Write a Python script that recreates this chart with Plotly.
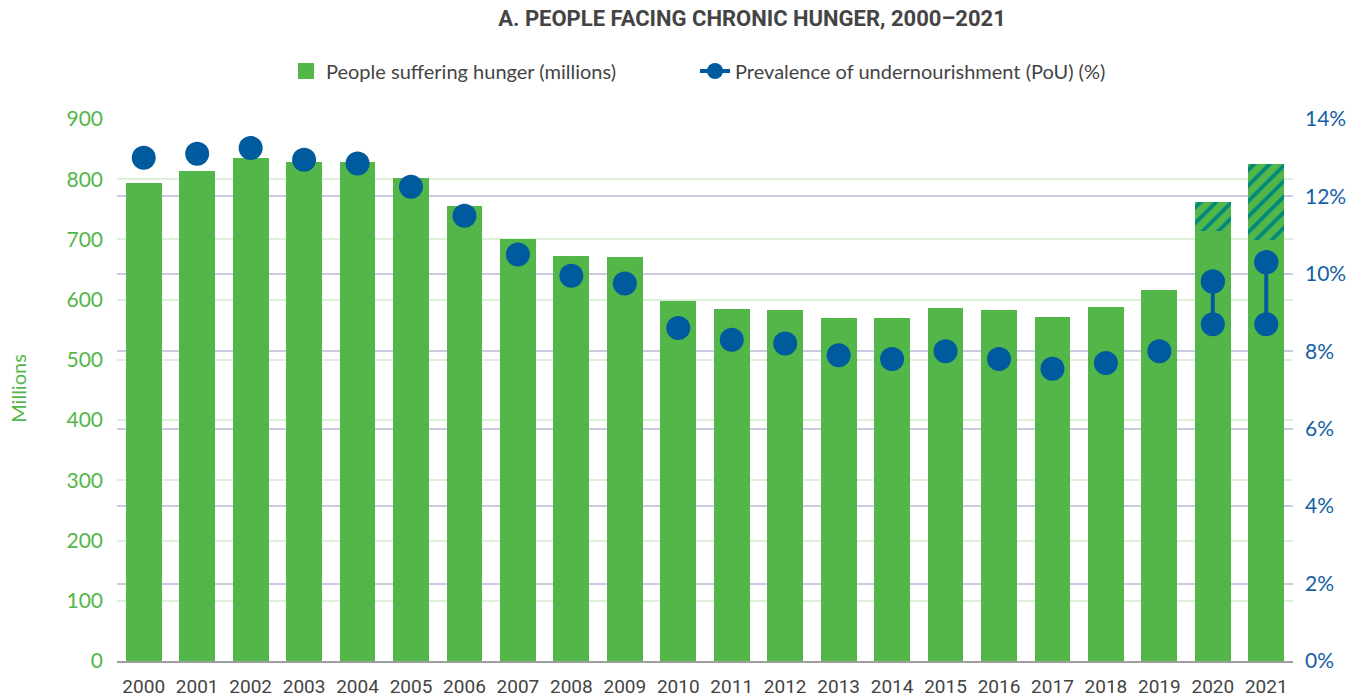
import plotly.graph_objects as go

years = [str(y) for y in range(2000, 2022)]
hunger = [794, 814, 835, 829, 829, 802, 756, 701, 672, 671, 598, 584, 583, 570, 570, 586,
          583, 571, 588, 616, 714, 699]
hunger_upper_extra = [None] * 20 + [49, 126]   # projected range above lower bound (2020, 2021)
pou = [13.0, 13.1, 13.25, 12.95, 12.85, 12.25, 11.5, 10.5, 9.95, 9.75, 8.6, 8.3, 8.2, 7.9,
       7.8, 8.0, 7.8, 7.55, 7.7, 8.0, 9.8, 10.3]
pou_low = {"2020": 8.7, "2021": 8.7}

left_ticks = [0, 100, 200, 300, 400, 500, 600, 700, 800, 900]
right_ticks = [0, 2, 4, 6, 8, 10, 12, 14]
right_labels = [f"{t}%" for t in right_ticks]

GREEN = "#52B748"
BLUE = "#005A9E"
TEAL = "#00897B"
GREY = "#444444"
NARROW = "Roboto, sans-serif"
BASE = "Lato, Roboto, sans-serif"

fig = go.Figure()
fig.add_trace(go.Bar(x=years, y=hunger, marker_color=GREEN, marker_line_width=0,
                     showlegend=False, hoverinfo="x+y"))
fig.add_trace(go.Bar(x=years, y=hunger_upper_extra, marker=dict(
    color=GREEN, line_width=0,
    pattern=dict(shape="/", fgcolor=TEAL, bgcolor=GREEN, size=11, solidity=0.35, fillmode="replace")),
    showlegend=False))
# legend proxy for bars
fig.add_trace(go.Scatter(x=[None], y=[None], mode="markers", name="People suffering hunger (millions)",
                         marker=dict(symbol="square", size=18, color=GREEN), legend="legend"))

# range segments 2020/2021
rx, ry = [], []
for yr, lo in pou_low.items():
    rx += [yr, yr, None]
    ry += [lo, pou[years.index(yr)], None]
fig.add_trace(go.Scatter(x=rx, y=ry, yaxis="y2", mode="lines+markers",
                         line=dict(color=BLUE, width=4), marker=dict(size=24, color=BLUE),
                         name="Prevalence of undernourishment (PoU) (%)", legend="legend2"))
fig.add_trace(go.Scatter(x=years, y=pou, yaxis="y2", mode="markers",
                         marker=dict(size=24, color=BLUE), showlegend=False))

fig.add_annotation(text="Millions", xref="paper", yref="paper", x=-0.0842, y=0.504,
                   textangle=-90, showarrow=False, xanchor="center", yanchor="middle",
                   font=dict(family=BASE, size=20, color=GREEN))

legend_style = dict(orientation="h", xanchor="left", y=1.0886, yanchor="middle",
                    font=dict(size=20, color=GREY), itemsizing="trace", bgcolor="rgba(0,0,0,0)")

fig.update_layout(
    width=1362, height=698,
    margin=dict(l=117, r=69, t=119, b=37, autoexpand=False),
    paper_bgcolor="white", plot_bgcolor="white",
    barmode="stack", bargap=0.33,
    font=dict(family=BASE, color=GREY),
    title=dict(text="<b>A. PEOPLE FACING CHRONIC HUNGER, 2000–2021</b>",
               x=0.54, xref="paper", xanchor="center", y=0.974, yanchor="middle",
               font=dict(family=NARROW, size=22, color=GREY)),
    legend=dict(x=0.1437, **legend_style),
    legend2=dict(x=0.4915, **legend_style),
    xaxis=dict(type="category", showgrid=False, showline=True, linecolor="#9E9E9E", linewidth=2,
               tickfont=dict(family=NARROW, size=19, color=GREY), ticks="", range=[-0.5, 21.5],
               ticklabelstandoff=7, automargin=False),
    yaxis=dict(range=[0, 900], tickvals=left_ticks, showgrid=True, gridcolor="#DDEFD9", gridwidth=1.5,
               zeroline=False, tickfont=dict(size=21, color=GREEN), ticklabelstandoff=13,
               automargin=False),
    yaxis2=dict(range=[0, 14], overlaying="y", side="right", tickvals=right_ticks, ticktext=right_labels,
                showgrid=True, gridcolor="#C9CBE3", gridwidth=1.5, zeroline=False,
                tickfont=dict(size=21, color="#1560A5"), ticklabelstandoff=11, automargin=False),
)

fig.write_html("out.html", config={"displayModeBar": False},
               post_script="document.body.style.margin='0';")
